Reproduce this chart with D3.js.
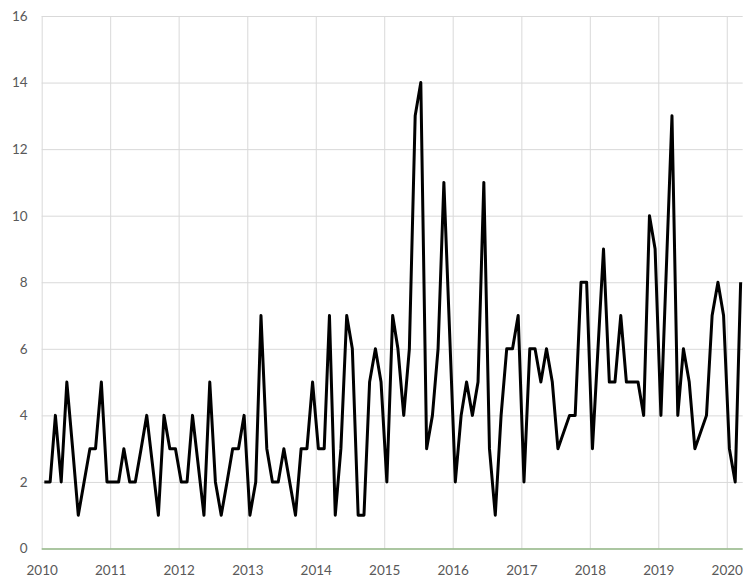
<!DOCTYPE html>
<html>
<head>
<meta charset="utf-8">
<script src="https://cdn.jsdelivr.net/npm/d3@7"></script>
<style>
  body { margin: 0; background: #fff; }
  text { font-family: Lato, "Open Sans", sans-serif; }
</style>
</head>
<body>
<div class="area"></div>
<script>
const width = 746
const height = 578
const plotLeft = 41.7
const plotRight = 742.7
const plotTop = 16
const plotBottom = 548.5
const labelColor = "#595959"
const gridColor = "#d9d9d9"
const axisColor = "#6aa157"

// monthly counts, months with no entry are not in the list
const months = [
  "2010-01","2010-02","2010-03","2010-04","2010-05","2010-06","2010-07","2010-08","2010-09","2010-10","2010-11","2010-12",
  "2011-01","2011-02","2011-03","2011-04","2011-05","2011-06","2011-07","2011-09","2011-10","2011-11","2011-12",
  "2012-01","2012-02","2012-03","2012-05","2012-06","2012-07","2012-08","2012-09","2012-10","2012-11","2012-12",
  "2013-01","2013-02","2013-03","2013-04","2013-05","2013-06","2013-07","2013-08","2013-09","2013-10","2013-11","2013-12",
  "2014-01","2014-02","2014-03","2014-04","2014-05","2014-06","2014-07","2014-08","2014-09","2014-10","2014-11","2014-12",
  "2015-01","2015-02","2015-03","2015-04","2015-05","2015-06","2015-07","2015-08","2015-09","2015-10","2015-11",
  "2016-01","2016-02","2016-03","2016-04","2016-05","2016-06","2016-07","2016-08","2016-09","2016-10","2016-11","2016-12",
  "2017-01","2017-02","2017-03","2017-04","2017-05","2017-06","2017-07","2017-09","2017-10","2017-11","2017-12",
  "2018-01","2018-03","2018-04","2018-05","2018-06","2018-07","2018-08","2018-09","2018-10","2018-11","2018-12",
  "2019-01","2019-03","2019-04","2019-05","2019-06","2019-07","2019-09","2019-10","2019-11","2019-12",
  "2020-01","2020-02","2020-03"
]
const counts = [
  2,2,4,2,5,3,1,2,3,3,5,2,
  2,2,3,2,2,3,4,1,4,3,3,
  2,2,4,1,5,2,1,2,3,3,4,
  1,2,7,3,2,2,3,2,1,3,3,5,
  3,3,7,1,3,7,6,1,1,5,6,5,
  2,7,6,4,6,13,14,3,4,6,11,
  2,4,5,4,5,11,3,1,4,6,6,7,
  2,6,6,5,6,5,3,4,4,8,8,
  3,9,5,5,7,5,5,5,4,10,9,
  4,13,4,6,5,3,4,7,8,7,
  3,2,8
]
const yTicks = [0, 2, 4, 6, 8, 10, 12, 14, 16]
const yearLabels = ["2010","2011","2012","2013","2014","2015","2016","2017","2018","2019","2020"]

const parseDay = d3.timeParse("%Y-%m-%d")
const data = months.map((m, i) => [parseDay(m + "-15"), counts[i]])

const svg = d3.select(".area")
  .append("svg")
  .attr("width", width)
  .attr("height", height)
  .attr("viewBox", [0, 0, width, height])

const x = d3.scaleTime()
  .domain([parseDay("2010-01-01"), parseDay("2020-03-26")])
  .range([plotLeft, plotRight])

const y = d3.scaleLinear()
  .domain([0, 16])
  .range([plotBottom, plotTop])

const yearDates = yearLabels.map(s => parseDay(s + "-01-01"))

// horizontal grid + y labels
const yAxis = svg.append("g")
  .attr("transform", `translate(${plotLeft}, 0)`)
  .call(d3.axisLeft(y)
    .tickValues(yTicks)
    .tickSize(-(plotRight - plotLeft))
    .tickPadding(14))
yAxis.select(".domain").remove()
yAxis.selectAll(".tick line").attr("stroke", gridColor)
yAxis.selectAll(".tick text")
  .attr("fill", labelColor)
  .attr("font-size", 13.5)

// vertical grid + year labels
const xAxis = svg.append("g")
  .attr("transform", `translate(0, ${plotBottom})`)
  .call(d3.axisBottom(x)
    .tickValues(yearDates)
    .tickFormat(d3.timeFormat("%Y"))
    .tickSize(-(plotBottom - plotTop))
    .tickPadding(0))
xAxis.select(".domain").remove()
xAxis.selectAll(".tick line").attr("stroke", gridColor)
xAxis.selectAll(".tick text")
  .attr("fill", labelColor)
  .attr("font-size", 13.5)
  .attr("dy", null)
  .attr("y", 26.5)

svg.append("line")
  .attr("x1", plotLeft)
  .attr("x2", plotRight)
  .attr("y1", plotBottom + 0.5)
  .attr("y2", plotBottom + 0.5)
  .attr("stroke", axisColor)
  .attr("stroke-width", 1)

const line = d3.line()
  .x(d => x(d[0]))
  .y(d => y(d[1]))

svg.append("path")
  .datum(data)
  .attr("fill", "none")
  .attr("stroke", "#000")
  .attr("stroke-width", 3)
  .attr("stroke-linejoin", "round")
  .attr("d", line)
</script>
</body>
</html>
